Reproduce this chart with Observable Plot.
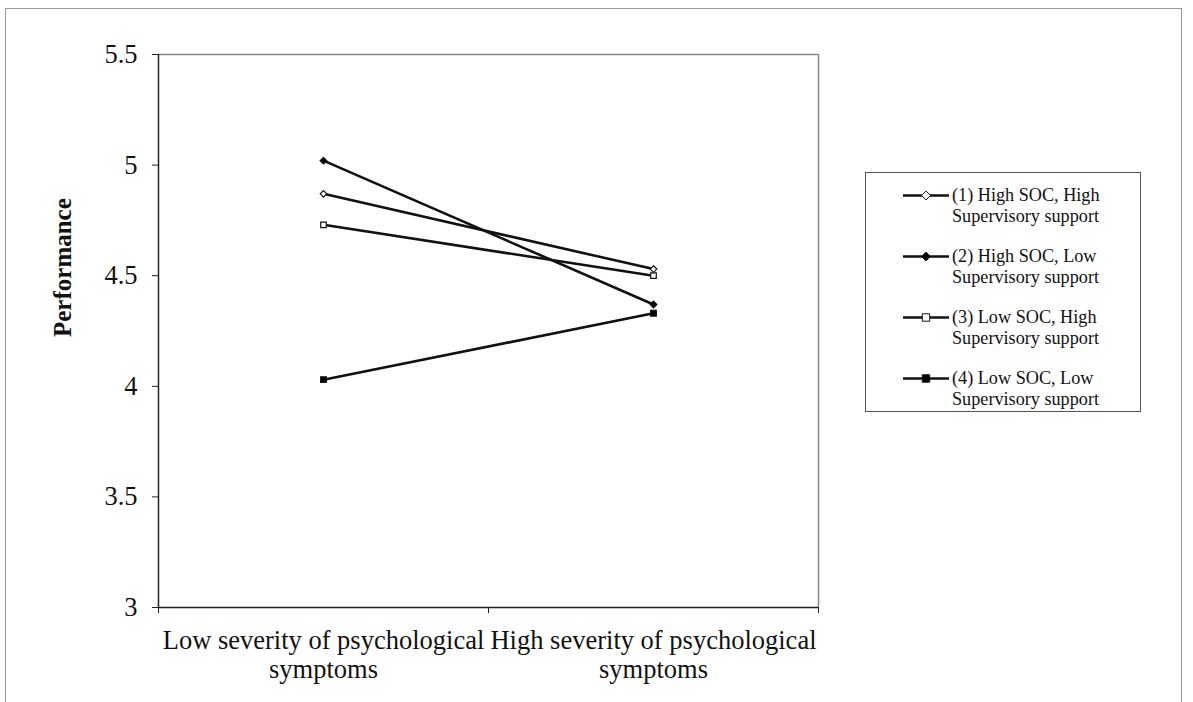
<!DOCTYPE html>
<html>
<head>
<meta charset="utf-8">
<script src="https://cdn.jsdelivr.net/npm/d3@7"></script>
<script src="https://cdn.jsdelivr.net/npm/@observablehq/plot@0.6"></script>
<style>
  html, body { margin: 0; padding: 0; background: #fff; overflow: hidden; }
  body { width: 1193px; height: 702px; position: relative; font-family: "Liberation Serif", "Times New Roman", serif; }
  #frame { position: absolute; left: 5px; top: 8px; width: 1177px; height: 720px; border: 1px solid #9a9a9a; box-sizing: border-box; }
  #chart { position: absolute; left: 0; top: 0; }
  #legend { position: absolute; left: 865px; top: 172px; width: 276px; height: 240px; border: 1.5px solid #555; box-sizing: border-box; background: #fff; }
  .entry { position: absolute; left: 0; width: 276px; height: 44px; }
  .entry svg { position: absolute; left: 37px; top: 0; }
  .entry .lab { position: absolute; left: 86px; top: 0; width: 180px; font-size: 18.2px; line-height: 21px; color: #111; white-space: normal; }
</style>
</head>
<body>
<div id="frame"></div>
<div id="chart"></div>
<div id="legend"></div>
<script>
// ---- data ----
const categories = ["Low severity of psychological symptoms", "High severity of psychological symptoms"];
const seriesNames = [
  "(1) High SOC, High Supervisory support",
  "(2) High SOC, Low Supervisory support",
  "(3) Low SOC, High Supervisory support",
  "(4) Low SOC, Low Supervisory support"
];
const series1 = [4.87, 4.53];
const series2 = [5.02, 4.37];
const series3 = [4.73, 4.50];
const series4 = [4.03, 4.33];
const yTicks = [3, 3.5, 4, 4.5, 5, 5.5];
const yLabel = "Performance";

// ---- styles per series ----
const symbolOf = ["diamond2", "diamond2", "square", "square"];
const fillOf = ["white", "black", "white", "black"];
const rOf = [4.9, 5.1, 5.5, 5.8];

const allSeries = [series1, series2, series3, series4];
const rows = [];
allSeries.forEach((vals, s) => {
  vals.forEach((v, i) => rows.push({series: seriesNames[s], si: s, cat: categories[i], xi: i + 0.5, value: v}));
});

const font = '"Liberation Serif", "Times New Roman", serif';

const chart = Plot.plot({
  width: 1193,
  height: 702,
  marginLeft: 158,
  marginRight: 375,
  marginTop: 54,
  marginBottom: 95,
  style: {fontFamily: font, fontSize: "26px", color: "#111", background: "transparent", overflow: "visible"},
  x: {domain: [0, categories.length], axis: null},
  y: {domain: [3, 5.5], axis: null},
  marks: [
    // plot area top/right border
    Plot.ruleY([5.5], {stroke: "#8a8a8a", strokeWidth: 1.5}),
    Plot.ruleX([categories.length], {stroke: "#8a8a8a", strokeWidth: 1.5}),
    // axes
    Plot.axisY({ticks: yTicks, tickSize: 6, tickPadding: 15, tickFormat: d => String(d), label: null, stroke: "#222", fontSize: 26.5}),
    Plot.axisX({ticks: d3.range(categories.length + 1), tickSize: 6, tickFormat: () => "", label: null, stroke: "#222"}),
    Plot.ruleX([0], {stroke: "#222", strokeWidth: 1.5}),
    Plot.ruleY([3], {stroke: "#222", strokeWidth: 1.5}),
    // category labels
    Plot.text(categories, {x: (d, i) => i + 0.5, frameAnchor: "bottom", dy: 20, lineAnchor: "top", textAnchor: "middle", lineWidth: 15, lineHeight: 1.12, fontSize: 26.5, fill: "#111"}),
    // y label
    Plot.text([yLabel], {frameAnchor: "left", dx: -96, dy: 6, rotate: -90, fontWeight: "bold", fontSize: 25, fill: "#111"}),
    // lines
    Plot.line(rows, {x: "xi", y: "value", z: "series", stroke: "#111", strokeWidth: 2.6}),
    // markers
    Plot.dot(rows, {x: "xi", y: "value", symbol: d => symbolOf[d.si], fill: d => fillOf[d.si], r: d => rOf[d.si], stroke: "#111", strokeWidth: 1.2})
  ]
});
document.getElementById("chart").appendChild(chart);

// ---- legend ----
const legend = document.getElementById("legend");
seriesNames.forEach((name, s) => {
  const e = document.createElement("div");
  e.className = "entry";
  e.style.top = (12 + s * 61) + "px";
  const svgNS = "http://www.w3.org/2000/svg";
  const svg = document.createElementNS(svgNS, "svg");
  svg.setAttribute("width", 46);
  svg.setAttribute("height", 21);
  const ln = document.createElementNS(svgNS, "line");
  ln.setAttribute("x1", 0); ln.setAttribute("x2", 46);
  ln.setAttribute("y1", 10.5); ln.setAttribute("y2", 10.5);
  ln.setAttribute("stroke", "#111"); ln.setAttribute("stroke-width", 2.4);
  svg.appendChild(ln);
  const sym = d3.symbol(symbolOf[s] === "square" ? d3.symbolSquare : d3.symbolDiamond2, symbolOf[s] === "square" ? 55 : 50);
  const p = document.createElementNS(svgNS, "path");
  p.setAttribute("d", sym());
  p.setAttribute("transform", "translate(23,10.5)");
  p.setAttribute("fill", fillOf[s]);
  p.setAttribute("stroke", "#111");
  p.setAttribute("stroke-width", 1);
  svg.appendChild(p);
  e.appendChild(svg);
  const lab = document.createElement("div");
  lab.className = "lab";
  lab.textContent = name;
  e.appendChild(lab);
  legend.appendChild(e);
});
</script>
</body>
</html>
